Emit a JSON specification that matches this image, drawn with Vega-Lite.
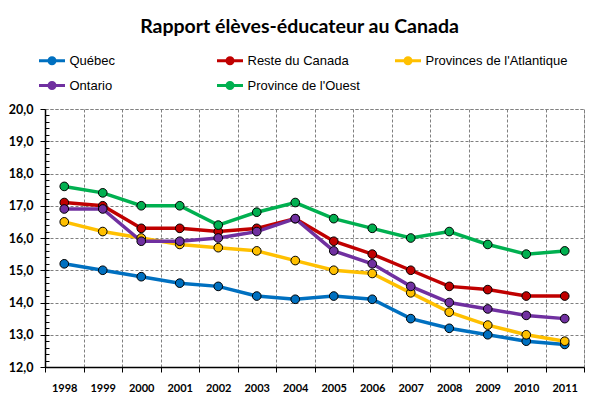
{
  "$schema": "https://vega.github.io/schema/vega-lite/v6.json",
  "width": 539,
  "height": 258,
  "autosize": {"type": "none"},
  "padding": {"left": 45, "top": 109, "right": 16, "bottom": 34},
  "background": "white",
  "title": {
    "text": "Rapport élèves-éducateur au Canada",
    "font": "Lato",
    "fontSize": 19.5,
    "fontWeight": "bold",
    "color": "black",
    "anchor": "middle",
    "dx": -15,
    "offset": 12
  },
  "config": {
    "locale": {
      "number": {"decimal": ",", "thousands": " ", "grouping": [3], "currency": ["", " €"]}
    },
    "view": {"stroke": "#808080", "strokeDash": [3, 2], "strokeWidth": 1}
  },
  "data": {
    "values": [
      {"annee": "1998", "serie": "Québec", "valeur": 15.2},
      {"annee": "1999", "serie": "Québec", "valeur": 15.0},
      {"annee": "2000", "serie": "Québec", "valeur": 14.8},
      {"annee": "2001", "serie": "Québec", "valeur": 14.6},
      {"annee": "2002", "serie": "Québec", "valeur": 14.5},
      {"annee": "2003", "serie": "Québec", "valeur": 14.2},
      {"annee": "2004", "serie": "Québec", "valeur": 14.1},
      {"annee": "2005", "serie": "Québec", "valeur": 14.2},
      {"annee": "2006", "serie": "Québec", "valeur": 14.1},
      {"annee": "2007", "serie": "Québec", "valeur": 13.5},
      {"annee": "2008", "serie": "Québec", "valeur": 13.2},
      {"annee": "2009", "serie": "Québec", "valeur": 13.0},
      {"annee": "2010", "serie": "Québec", "valeur": 12.8},
      {"annee": "2011", "serie": "Québec", "valeur": 12.7},
      {"annee": "1998", "serie": "Reste du Canada", "valeur": 17.1},
      {"annee": "1999", "serie": "Reste du Canada", "valeur": 17.0},
      {"annee": "2000", "serie": "Reste du Canada", "valeur": 16.3},
      {"annee": "2001", "serie": "Reste du Canada", "valeur": 16.3},
      {"annee": "2002", "serie": "Reste du Canada", "valeur": 16.2},
      {"annee": "2003", "serie": "Reste du Canada", "valeur": 16.3},
      {"annee": "2004", "serie": "Reste du Canada", "valeur": 16.6},
      {"annee": "2005", "serie": "Reste du Canada", "valeur": 15.9},
      {"annee": "2006", "serie": "Reste du Canada", "valeur": 15.5},
      {"annee": "2007", "serie": "Reste du Canada", "valeur": 15.0},
      {"annee": "2008", "serie": "Reste du Canada", "valeur": 14.5},
      {"annee": "2009", "serie": "Reste du Canada", "valeur": 14.4},
      {"annee": "2010", "serie": "Reste du Canada", "valeur": 14.2},
      {"annee": "2011", "serie": "Reste du Canada", "valeur": 14.2},
      {"annee": "1998", "serie": "Provinces de l'Atlantique", "valeur": 16.5},
      {"annee": "1999", "serie": "Provinces de l'Atlantique", "valeur": 16.2},
      {"annee": "2000", "serie": "Provinces de l'Atlantique", "valeur": 16.0},
      {"annee": "2001", "serie": "Provinces de l'Atlantique", "valeur": 15.8},
      {"annee": "2002", "serie": "Provinces de l'Atlantique", "valeur": 15.7},
      {"annee": "2003", "serie": "Provinces de l'Atlantique", "valeur": 15.6},
      {"annee": "2004", "serie": "Provinces de l'Atlantique", "valeur": 15.3},
      {"annee": "2005", "serie": "Provinces de l'Atlantique", "valeur": 15.0},
      {"annee": "2006", "serie": "Provinces de l'Atlantique", "valeur": 14.9},
      {"annee": "2007", "serie": "Provinces de l'Atlantique", "valeur": 14.3},
      {"annee": "2008", "serie": "Provinces de l'Atlantique", "valeur": 13.7},
      {"annee": "2009", "serie": "Provinces de l'Atlantique", "valeur": 13.3},
      {"annee": "2010", "serie": "Provinces de l'Atlantique", "valeur": 13.0},
      {"annee": "2011", "serie": "Provinces de l'Atlantique", "valeur": 12.8},
      {"annee": "1998", "serie": "Ontario", "valeur": 16.9},
      {"annee": "1999", "serie": "Ontario", "valeur": 16.9},
      {"annee": "2000", "serie": "Ontario", "valeur": 15.9},
      {"annee": "2001", "serie": "Ontario", "valeur": 15.9},
      {"annee": "2002", "serie": "Ontario", "valeur": 16.0},
      {"annee": "2003", "serie": "Ontario", "valeur": 16.2},
      {"annee": "2004", "serie": "Ontario", "valeur": 16.6},
      {"annee": "2005", "serie": "Ontario", "valeur": 15.6},
      {"annee": "2006", "serie": "Ontario", "valeur": 15.2},
      {"annee": "2007", "serie": "Ontario", "valeur": 14.5},
      {"annee": "2008", "serie": "Ontario", "valeur": 14.0},
      {"annee": "2009", "serie": "Ontario", "valeur": 13.8},
      {"annee": "2010", "serie": "Ontario", "valeur": 13.6},
      {"annee": "2011", "serie": "Ontario", "valeur": 13.5},
      {"annee": "1998", "serie": "Province de l'Ouest", "valeur": 17.6},
      {"annee": "1999", "serie": "Province de l'Ouest", "valeur": 17.4},
      {"annee": "2000", "serie": "Province de l'Ouest", "valeur": 17.0},
      {"annee": "2001", "serie": "Province de l'Ouest", "valeur": 17.0},
      {"annee": "2002", "serie": "Province de l'Ouest", "valeur": 16.4},
      {"annee": "2003", "serie": "Province de l'Ouest", "valeur": 16.8},
      {"annee": "2004", "serie": "Province de l'Ouest", "valeur": 17.1},
      {"annee": "2005", "serie": "Province de l'Ouest", "valeur": 16.6},
      {"annee": "2006", "serie": "Province de l'Ouest", "valeur": 16.3},
      {"annee": "2007", "serie": "Province de l'Ouest", "valeur": 16.0},
      {"annee": "2008", "serie": "Province de l'Ouest", "valeur": 16.2},
      {"annee": "2009", "serie": "Province de l'Ouest", "valeur": 15.8},
      {"annee": "2010", "serie": "Province de l'Ouest", "valeur": 15.5},
      {"annee": "2011", "serie": "Province de l'Ouest", "valeur": 15.6}
    ]
  },
  "encoding": {
    "x": {
      "field": "annee",
      "type": "ordinal",
      "scale": {"paddingInner": 0, "paddingOuter": 0},
      "axis": {
        "title": null,
        "labelAngle": 0,
        "tickBand": "extent",
        "grid": true,
        "gridColor": "#808080",
        "gridDash": [3, 2],
        "gridWidth": 1,
        "domainColor": "black",
        "domainWidth": 1.5,
        "tickColor": "black",
        "tickSize": 5,
        "labelPadding": 10,
        "labelFont": "Lato",
        "labelFontWeight": "bold",
        "labelFontSize": 11,
        "labelColor": "black"
      }
    },
    "color": {
      "field": "serie",
      "type": "nominal",
      "scale": {
        "domain": ["Québec", "Reste du Canada", "Provinces de l'Atlantique", "Ontario", "Province de l'Ouest"],
        "range": ["#0070C0", "#C00000", "#FFC000", "#7030A0", "#00B050"]
      },
      "legend": {
        "title": null,
        "orient": "none",
        "legendX": -4.5,
        "legendY": -60,
        "direction": "horizontal",
        "columns": 3,
        "gridAlign": "all",
        "columnPadding": -1,
        "rowPadding": 4,
        "padding": 0,
        "symbolType": "M-1.3,0H-0.3M0.3,0H1.3M-0.3,0A0.3,0.3,0,1,1,0.3,0A0.3,0.3,0,1,1,-0.3,0Z",
        "symbolSize": 400,
        "symbolStrokeWidth": 3,
        "labelOffset": 6,
        "labelFont": "Liberation Sans",
        "labelFontSize": 13,
        "labelColor": "black"
      }
    }
  },
  "layer": [
    {
      "mark": {"type": "line", "strokeWidth": 3.5},
      "encoding": {
        "y": {
          "field": "valeur",
          "type": "quantitative",
          "scale": {"domain": [12, 20], "nice": false, "zero": false},
          "axis": {
            "title": null,
            "values": [12, 13, 14, 15, 16, 17, 18, 19, 20],
            "format": ".1f",
            "grid": true,
            "gridColor": "#808080",
            "gridDash": [3, 2],
            "gridWidth": 1,
            "domainColor": "black",
            "domainWidth": 1.5,
            "tickColor": "black",
            "tickSize": 5,
            "labelPadding": 7,
            "labelFont": "Lato",
            "labelFontWeight": "bold",
            "labelFontSize": 12.5,
            "labelColor": "black"
          }
        }
      }
    },
    {
      "mark": {"type": "point", "filled": true, "size": 75, "stroke": "black", "strokeWidth": 1, "opacity": 1},
      "encoding": {
        "y": {
          "field": "valeur",
          "type": "quantitative",
          "axis": {
            "orient": "left",
            "title": null,
            "values": [12.2, 12.4, 12.6, 12.8, 13.2, 13.4, 13.6, 13.8, 14.2, 14.4, 14.6, 14.8, 15.2, 15.4, 15.6, 15.8, 16.2, 16.4, 16.6, 16.8, 17.2, 17.4, 17.6, 17.8, 18.2, 18.4, 18.6, 18.8, 19.2, 19.4, 19.6, 19.8, 12, 13, 14, 15, 16, 17, 18, 19],
            "labels": false,
            "grid": false,
            "domain": false,
            "tickColor": "black",
            "tickSize": -4
          }
        }
      }
    }
  ],
  "resolve": {"axis": {"y": "independent"}}
}
